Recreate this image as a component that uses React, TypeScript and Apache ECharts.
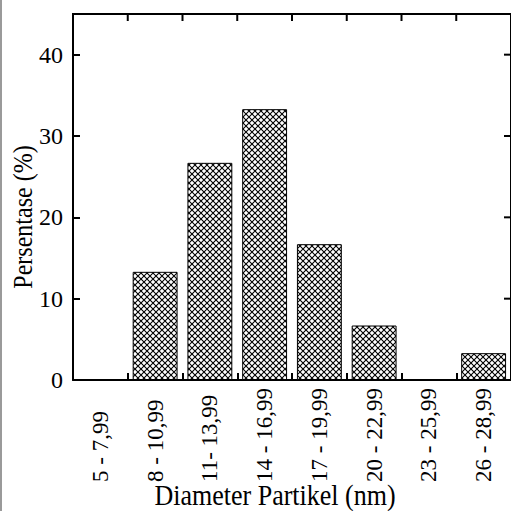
import React, { useEffect, useRef } from "react";
import * as echarts from "echarts";

const categories = ["5 - 7,99", "8 - 10,99", "11- 13,99", "14 - 16,99", "17 - 19,99", "20 - 22,99", "23 - 25,99", "26 - 28,99"];
const percentages = [0, 13.3, 26.7, 33.3, 16.7, 6.7, 0, 3.3];
const yMin = 0;
const yMax = 45;
const yInterval = 10;
const yTickValues = [10, 20, 30, 40];

const tileSvg =
  '<svg xmlns="http://www.w3.org/2000/svg" width="6" height="6"><rect width="6" height="6" fill="white"/><path d="M0,0 L6,6 M6,0 L0,6" stroke="black" stroke-width="1.1"/></svg>';
const tileUrl = "data:image/svg+xml;charset=utf-8," + encodeURIComponent(tileSvg);

const serif = "Liberation Serif";
const TICK = 7;
const W = 511;
const H = 511;
const G = { left: 73, top: 14, right: -4, bottom: 131 };

const mkLine = () => ({ show: true, onZero: false, lineStyle: { color: "#000", width: 2 } });
const mkTick = () => ({ show: true, inside: true, length: TICK, lineStyle: { color: "#000", width: 2 } });

export default function App() {
  const ref = useRef<HTMLDivElement>(null);
  useEffect(() => {
    if (!ref.current) return;
    const chart = echarts.init(ref.current, null, { renderer: "svg" });
    const baseGraphic: any[] = [
      { id: "edge", type: "rect", shape: { x: 0, y: 0, width: 2, height: H }, style: { fill: "#9a9a9a" } },
      {
        id: "xtitle",
        type: "text",
        x: 275,
        y: 496,
        scaleY: 1.1,
        style: { text: "Diameter Partikel (nm)", font: `26px "${serif}"`, fill: "#000", textAlign: "center", textVerticalAlign: "middle" },
      },
      {
        id: "ytitle",
        type: "text",
        x: 23,
        y: 217,
        rotation: Math.PI / 2,
        scaleY: 1.15,
        style: { text: "Persentase (%)", font: `24px "${serif}"`, fill: "#000", textAlign: "center", textVerticalAlign: "middle" },
      },
    ];
    chart.setOption({
      animation: false,
      backgroundColor: "#fff",
      grid: { ...G, containLabel: false },
      xAxis: {
        type: "category",
        data: categories,
        position: "bottom",
        axisLine: mkLine(),
        axisTick: mkTick(),
        axisLabel: { rotate: 90, align: "left", fontFamily: serif, fontSize: 23, color: "#000", margin: 102, interval: 0 },
      },
      yAxis: {
        type: "value",
        min: yMin,
        max: yMax,
        interval: yInterval,
        position: "left",
        axisLine: mkLine(),
        axisTick: mkTick(),
        axisLabel: { fontFamily: serif, fontSize: 24, color: "#000", margin: 10, showMaxLabel: false },
        splitLine: { show: false },
      },
      series: [
        {
          type: "bar",
          data: percentages,
          barCategoryGap: "18%",
          itemStyle: {
            color: { image: tileUrl, repeat: "repeat" },
            borderColor: "#000",
            borderWidth: 1,
          },
        },
      ],
      graphic: baseGraphic,
    });

    // Frame and top/right ticks, placed through the chart's own scales (with grid fallback)
    const finder = { xAxisIndex: 0, yAxisIndex: 0 };
    const ok = (v: any) => typeof v === "number" && isFinite(v);
    const gridW = W - G.left - G.right;
    const gridH = H - G.top - G.bottom;
    const yPix = (v: number) => {
      const p = chart.convertToPixel(finder, [0, v]) as any;
      return p && ok(p[1]) ? p[1] : G.top + gridH * (1 - (v - yMin) / (yMax - yMin));
    };
    const xCenter = (i: number) => {
      const p = chart.convertToPixel(finder, [i, yMin]) as any;
      return p && ok(p[0]) ? p[0] : G.left + (gridW / categories.length) * (i + 0.5);
    };
    const band = xCenter(1) - xCenter(0);
    const leftX = xCenter(0) - band / 2;
    const rightX = xCenter(categories.length - 1) + band / 2;
    const topY = yPix(yMax);
    const bottomY = yPix(yMin);
    const fill = { fill: "#000" };
    const extra: any[] = [
      { id: "frameTop", type: "rect", shape: { x: leftX - 1, y: topY - 1, width: rightX - leftX + 2, height: 2 }, style: fill, z: 100 },
      { id: "frameRight", type: "rect", shape: { x: rightX - 1, y: topY - 1, width: 2, height: bottomY - topY + 2 }, style: fill, z: 100 },
    ];
    categories.forEach((_, i) => {
      const x = leftX + band * (i + 1);
      extra.push({ id: "tt" + i, type: "rect", shape: { x: x - 1, y: topY, width: 2, height: TICK }, style: fill, z: 100 });
    });
    yTickValues.forEach((v, i) => {
      const y = yPix(v);
      extra.push({ id: "rt" + i, type: "rect", shape: { x: rightX - TICK, y: y - 1, width: TICK, height: 2 }, style: fill, z: 100 });
    });
    chart.setOption({ graphic: [...baseGraphic, ...extra] });

    return () => chart.dispose();
  }, []);
  return <div ref={ref} style={{ position: "fixed", left: 0, top: 0, width: W, height: H }} />;
}
